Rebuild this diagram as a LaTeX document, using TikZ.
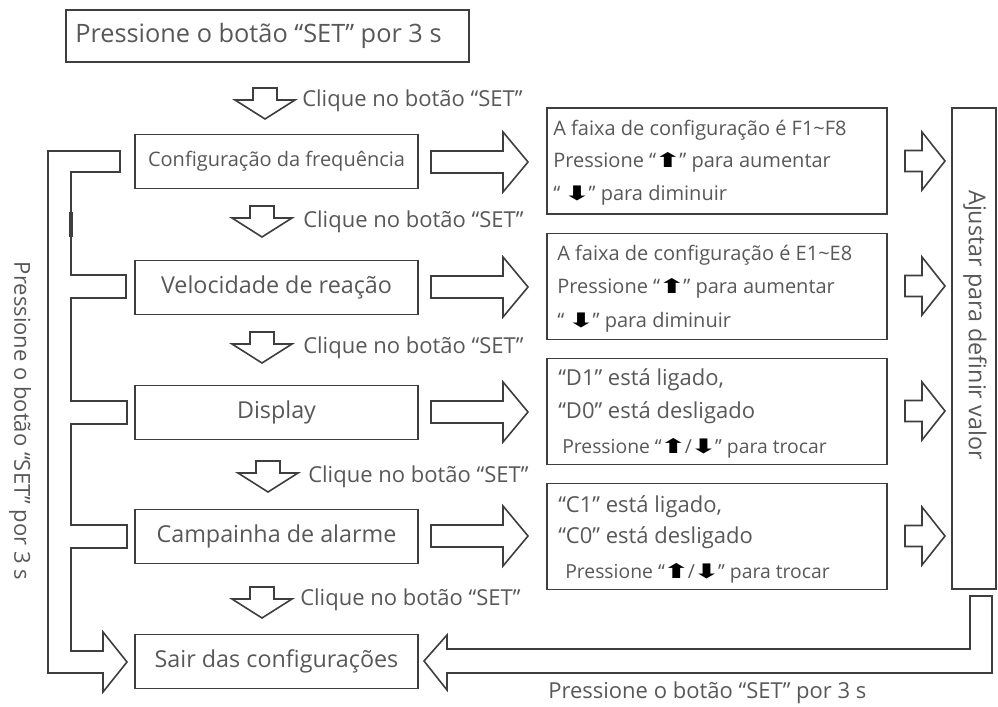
\documentclass[tikz,border=0pt]{standalone}
\usepackage{fontspec}
\setmainfont{Open Sans}
\newfontfamily\symf{DejaVu Sans}
\definecolor{txt}{RGB}{88,88,88}
\definecolor{lnc}{RGB}{62,62,62}
\newcommand\upA{\kern-2pt{\symf\fontsize{15}{15}\selectfont\textcolor{black}{\scalebox{1.7}[1]{⬆}}}\kern-2pt}
\newcommand\dnA{\kern-2pt{\symf\fontsize{15}{15}\selectfont\textcolor{black}{\scalebox{1.7}[1]{⬇}}}\kern-2pt}
\newcommand\dnarrow[2]{\draw[outl] (#1-12,#2) -- (#1+12,#2) -- (#1+12,#2+12) -- (#1+30,#2+12) -- (#1,#2+31) -- (#1-30,#2+12) -- (#1-12,#2+12) -- cycle;}
\newcommand\rtarrow[6]{\draw[outl] (#1,#4-#5) -- (#2,#4-#5) -- (#2,#4-#6) -- (#3,#4) -- (#2,#4+#6) -- (#2,#4+#5) -- (#1,#4+#5) -- cycle;}
\begin{document}
\begin{tikzpicture}[x=0.75pt,y=-0.75pt,
  outl/.style={draw=lnc,line width=1.2pt,line join=miter},
  box/.style={draw=lnc,line width=1.2pt,inner sep=0pt},
  lbox/.style={box,minimum width=212.25pt,minimum height=40.5pt},
  mbox/.style={box,minimum width=255pt,minimum height=79.5pt},
  tx/.style={text=txt,inner sep=0pt},
  big/.style={tx,font=\fontsize{17.5}{20}\selectfont},
  mid/.style={tx,font=\fontsize{15}{18}\selectfont,anchor=west},
  lab/.style={tx,font=\fontsize{16.5}{18}\selectfont,anchor=west}]
\useasboundingbox (0,0) rectangle (998,706);

% top box
\node[box,minimum width=302.25pt,minimum height=39pt] (top) at (267.5,36) {};
\node[tx,font=\fontsize{19}{22}\selectfont,anchor=west] (toptxt) at (75,36) {Pressione o botão “SET” por 3 s};

% left column boxes
\node[lbox] (b1) at (276.5,161.5) {};
\node[tx,font=\fontsize{15}{18}\selectfont] (b1t) at (b1) {Configuração da frequência};
\node[lbox] (b2) at (276.5,287.5) {};
\node[big] (b2t) at (b2) {Velocidade de reação};
\node[lbox] (b3) at (276.5,412.5) {};
\node[big] (b3t) at (b3) {Display};
\node[lbox] (b4) at (276.5,536.5) {};
\node[big] (b4t) at (b4) {Campainha de alarme};
\node[lbox] (b5) at (276.5,661.5) {};
\node[big] (b5t) at (b5) {Sair das configurações};

% middle boxes
\node[mbox] (m1) at (717,161) {};
\node[mbox] (m2) at (717,286.5) {};
\node[mbox] (m3) at (717,411.5) {};
\node[mbox] (m4) at (717,536.5) {};

\node[mid] (m1a) at (553,130) {A faixa de configuração é F1\textasciitilde F8};
\node[mid] (m1b) at (553,162) {Pressione “\upA” para aumentar};
\node[mid] (m1c) at (553,195) {“ \dnA” para diminuir};
\node[mid] (m2a) at (557,255) {A faixa de configuração é E1\textasciitilde E8};
\node[mid] (m2b) at (557,288) {Pressione “\upA” para aumentar};
\node[mid] (m2c) at (557,322) {“ \dnA” para diminuir};
\node[mid,font=\fontsize{16.5}{18}\selectfont] (m3a) at (558,380) {“D1” está ligado,};
\node[mid,font=\fontsize{16.5}{18}\selectfont] (m3b) at (558,413) {“D0” está desligado};
\node[mid,font=\fontsize{14.5}{16}\selectfont] (m3c) at (562,448) {Pressione “\upA/\dnA” para trocar};
\node[mid,font=\fontsize{16.5}{18}\selectfont] (m4a) at (558,507) {“C1” está ligado,};
\node[mid,font=\fontsize{16.5}{18}\selectfont] (m4b) at (558,538) {“C0” está desligado};
\node[mid,font=\fontsize{14.5}{16}\selectfont] (m4c) at (565,573) {Pressione “\upA/\dnA” para trocar};

% right tall box
\node[box,minimum width=33pt,minimum height=360.75pt] (rb) at (974,348.5) {};
\node[big,rotate=-90] (rbt) at (975,325) {Ajustar para definir valor};

% down arrows with labels
\dnarrow{265}{88}
\node[lab] (l1) at (302,101) {Clique no botão “SET”};
\dnarrow{262}{206}
\node[lab] (l2) at (303,222) {Clique no botão “SET”};
\dnarrow{262}{332}
\node[lab] (l3) at (303,348) {Clique no botão “SET”};
\dnarrow{268}{461}
\node[lab] (l4) at (308,477) {Clique no botão “SET”};
\dnarrow{262}{587}
\node[lab] (l5) at (300,600) {Clique no botão “SET”};

% big right arrows
\rtarrow{431}{503}{528}{162}{11}{30}
\rtarrow{431}{503}{528}{287}{11}{30}
\rtarrow{431}{503}{528}{412}{11}{30}
\rtarrow{431}{503}{528}{536}{11}{30}

% small right arrows
\rtarrow{905}{922}{945}{161}{10.5}{29}
\rtarrow{905}{922}{945}{286}{10.5}{29}
\rtarrow{905}{922}{945}{411}{10.5}{29}
\rtarrow{905}{922}{945}{536}{10.5}{29}

% left return arrow
\draw[outl] (120,151) -- (48,151) -- (48,673) -- (103,673) -- (103,692) -- (127,662) -- (103,632) -- (103,651) -- (71,651)
  -- (71,548) -- (127,548) -- (127,525) -- (71,525)
  -- (71,424) -- (127,424) -- (127,401) -- (71,401)
  -- (71,298) -- (126,298) -- (126,275) -- (71,275)
  -- (71,172) -- (120,172) -- cycle;
\draw[draw=lnc,line width=2.4pt] (71,212) -- (71,237);
\node[lab,anchor=center,rotate=-90] (ll) at (20,421) {Pressione o botão “SET” por 3 s};

% bottom return arrow
\draw[outl] (970,596) -- (970,649) -- (447,649) -- (447,635) -- (424,661) -- (447,690) -- (447,673) -- (992,673) -- (992,596) -- cycle;
\node[lab] (bl) at (548,693) {Pressione o botão “SET” por 3 s};
\end{tikzpicture}
\end{document}
